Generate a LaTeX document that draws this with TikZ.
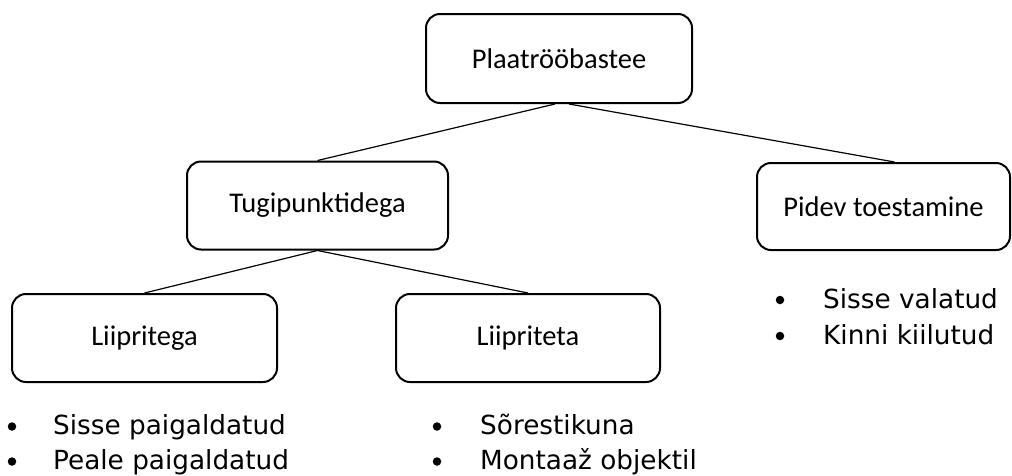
\documentclass[tikz,border=0pt]{standalone}
\usepackage{fontspec}
\newfontfamily\boxfont{Carlito}
\newfontfamily\bulfont{DejaVu Sans}
\begin{document}
\begin{tikzpicture}[x=1pt,y=-1pt,
  box/.style={draw=black,line width=2pt,rounded corners=14pt,inner sep=0pt,
    font=\boxfont\fontsize{28.5}{34}\selectfont,text=black},
  conn/.style={draw=black,line width=1.2pt},
  bul/.style={circle,fill=black,inner sep=0pt,minimum size=8.5pt},
  item/.style={inner sep=0pt,anchor=base west,font=\bulfont\fontsize{26.3}{36}\selectfont}]
\useasboundingbox (0,0) rectangle (1012,475);
\node[box,minimum width=266pt,minimum height=89pt] (top) at (559,58.5) {Plaatrööbastee};
\node[box,minimum width=261pt,minimum height=88pt] (tugi) at (317.5,205.5) {Tugipunktidega};
\node[box,minimum width=253pt,minimum height=87pt] (pidev) at (883.5,206.5) {Pidev toestamine};
\node[box,minimum width=265pt,minimum height=88pt] (lga) at (144.5,338) {Liipritega};
\node[box,minimum width=264pt,minimum height=88pt] (lta) at (528,338) {Liipriteta};
\draw[conn] ([xshift=-4pt]top.south) -- (tugi.north);
\draw[conn] ([xshift=10pt]top.south) -- ([xshift=11pt]pidev.north);
\draw[conn] (tugi.south) -- (lga.north);
\draw[conn] (tugi.south) -- (lta.north);
% lists
\node[bul] (b1) at (12,426.5) {};
\node[item] (t1) at (53,434.5) {Sisse paigaldatud};
\node[bul] (b2) at (12,461.5) {};
\node[item] (t2) at (53,469.5) {Peale paigaldatud};
\node[bul] (b3) at (437,426.5) {};
\node[item] (t3) at (480,434.5) {Sõrestikuna};
\node[bul] (b4) at (437,461.5) {};
\node[item] (t4) at (480,469.5) {Montaaž objektil};
\node[bul] (b5) at (780,300) {};
\node[item] (t5) at (823,308) {Sisse valatud};
\node[bul] (b6) at (780,336) {};
\node[item] (t6) at (823,344) {Kinni kiilutud};
\end{tikzpicture}
\end{document}
